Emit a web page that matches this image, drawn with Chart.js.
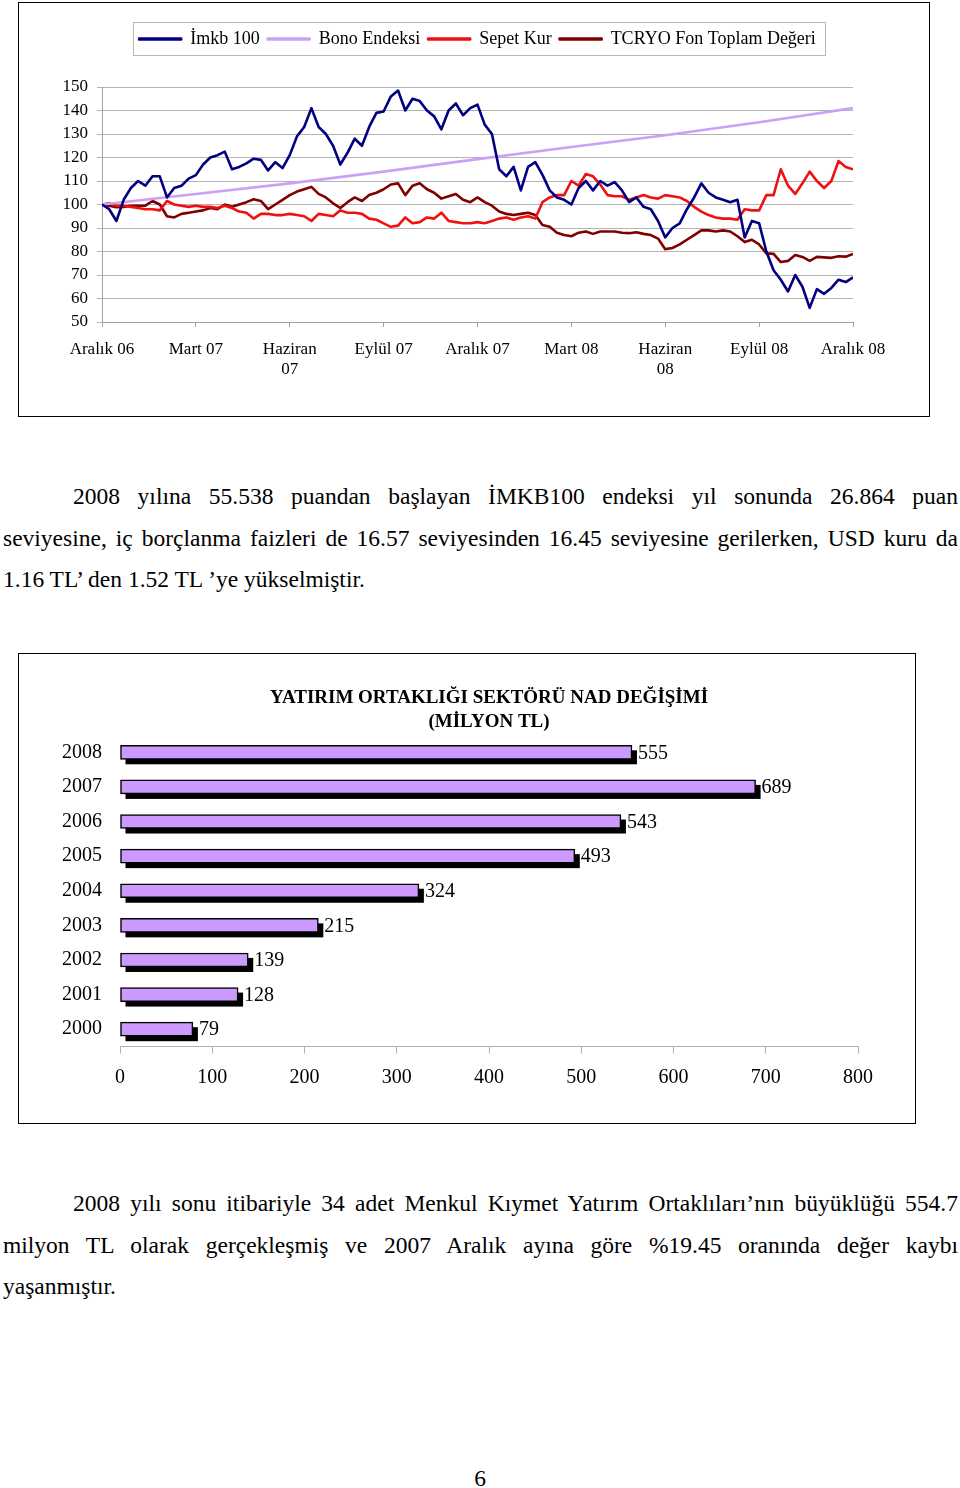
<!DOCTYPE html>
<html lang="tr">
<head>
<meta charset="utf-8">
<script src="https://cdn.jsdelivr.net/npm/chart.js@4.4.1/dist/chart.umd.min.js"></script>
<style>
  body { margin: 0; background: #fff; font-family: "Liberation Serif", "Times New Roman", serif; color: #000; }
  .page { position: relative; width: 960px; height: 1488px; }
  .box { position: absolute; border: 1px solid #000; box-sizing: border-box; background: #fff; }
  #box1 { left: 18px; top: 2px; width: 912px; height: 415px; }
  #box2 { left: 18px; top: 653px; width: 898px; height: 471px; }
  canvas { display: block; }
  .para { position: absolute; left: 3px; width: 955px; font-size: 23.5px; line-height: 41.5px; }
  .para .j { text-align: justify; text-align-last: justify; }
  .para .first { padding-left: 70px; }
  .pno { position: absolute; left: 0; width: 960px; top: 1465px; text-align: center; font-size: 23.5px; }
</style>
</head>
<body>
<div class="page">
  <div class="box" id="box1"><canvas id="lineChart" width="910" height="413"></canvas></div>

  <div class="para" style="top:476px">
    <div class="j first">2008 yılına 55.538 puandan başlayan İMKB100 endeksi yıl sonunda 26.864 puan</div>
    <div class="j">seviyesine, iç borçlanma faizleri de 16.57 seviyesinden 16.45 seviyesine gerilerken, USD kuru da</div>
    <div>1.16 TL’ den 1.52 TL ’ye yükselmiştir.</div>
  </div>

  <div class="box" id="box2"><canvas id="barChart" width="896" height="469"></canvas></div>

  <div class="para" style="top:1183px">
    <div class="j first">2008 yılı sonu itibariyle 34 adet Menkul Kıymet Yatırım Ortaklıları’nın büyüklüğü 554.7</div>
    <div class="j">milyon TL olarak gerçekleşmiş ve 2007 Aralık ayına göre %19.45 oranında değer kaybı</div>
    <div>yaşanmıştır.</div>
  </div>

  <div class="pno">6</div>
</div>

<script>
// line chart: one value per week, Aralık 06 -> Aralık 08
const quarterLabels = ['Aralık 06', 'Mart 07', ['Haziran', '07'], 'Eylül 07', 'Aralık 07',
  'Mart 08', ['Haziran', '08'], 'Eylül 08', 'Aralık 08'];

const imkb = [100, 98, 93, 102, 107, 110, 108, 112, 112, 103, 107, 108, 111, 112.5, 117, 120, 121, 122.5,
  115, 116, 117.5, 119.5, 119, 114.5, 118, 115.5, 121, 129, 133, 141, 133, 130, 125, 117, 122,
  128, 125, 133, 139, 139.6, 146, 148.5, 140, 145, 144, 140, 137.5, 132, 140, 143, 138, 141, 142.5,
  134, 130, 115, 112, 116, 106, 116, 118, 112.6, 106, 103, 102, 100, 107, 110, 106, 110,
  108, 109.5, 106, 101, 103, 99, 98, 93, 86, 90, 92, 98, 103, 109, 105, 103, 102,
  101, 102, 86, 93, 92, 80, 72, 68, 63, 70, 65, 56, 64, 62, 64.5, 68, 67, 69];

const sepetKur = [100, 100.5, 99.5, 99.5, 99, 98.5, 98, 98, 97.5, 101.5, 100, 99.5, 99, 99.5, 99, 99, 98.5, 99.5,
  98.5, 97, 96.5, 94, 96, 96, 95.5, 95.5, 96, 95.5, 95, 93, 96, 95.5, 95, 97.5, 96.5,
  96.5, 96, 94, 93.5, 92, 90.5, 91, 94.5, 92, 92.5, 94.5, 94, 96.5, 93, 92.5, 92, 92, 92.5,
  92, 93, 94, 94.5, 93.5, 94.5, 95, 94, 101, 103, 104, 104, 110, 108, 113, 112, 108.5,
  104, 103.5, 103.5, 102, 103, 104, 103, 102.5, 104, 103.5, 103, 101.5, 99, 97, 95.5, 94.5, 94,
  94, 93.5, 98, 97.5, 97.5, 104, 104, 115, 108, 104.5, 109, 114, 110, 107, 110, 118.5, 116, 115];

const tcryo = [100, 99.5, 98.8, 99, 99.5, 99.5, 99.5, 101.5, 100, 95, 94.5, 96, 96.5, 97, 97.5, 98.5, 98, 100,
  99, 100, 101, 102.2, 101.5, 98, 100, 102, 104, 105.5, 106.5, 107.5, 104.5, 103, 100.5, 98.5, 101,
  103, 101.5, 104, 105, 106.5, 108.5, 109, 104, 108, 109, 106.5, 105, 102.5, 103.5, 104.5, 102, 101, 103,
  101, 99.5, 97, 96, 95.5, 96, 96.5, 95.5, 91.3, 90.5, 88, 87, 86.5, 88, 88.5, 87.5, 88.5,
  88.5, 88.5, 88, 87.8, 88.2, 87.5, 87, 85.5, 81, 81.5, 83, 85, 87, 89, 89, 88.5, 89,
  88.5, 86.5, 84, 85, 83, 79.2, 79, 75.5, 76, 78.5, 77.7, 76, 77.7, 77.5, 77.3, 78, 77.8, 79];

// bono index is smooth, read at each quarter
const bonoWeeks = [0, 13, 26, 39, 52, 65, 78, 91, 104];
const bono = [100, 104.5, 109, 114, 119.3, 124.5, 129.5, 135, 141];

// bar chart
const years = ['2008', '2007', '2006', '2005', '2004', '2003', '2002', '2001', '2000'];
const navValues = [555, 689, 543, 493, 324, 215, 139, 128, 79];

const serif = '"Liberation Serif", "Times New Roman", serif';
const toPoints = (arr) => arr.map((v, i) => ({ x: i, y: v }));

const legendFrame = {
  id: 'legendFrame',
  afterDraw(chart) {
    const boxes = chart.legend.legendHitBoxes;
    if (!boxes || !boxes.length) return;
    const left = Math.min(...boxes.map(b => b.left)) - 6;
    const right = Math.max(...boxes.map(b => b.left + b.width)) + 9;
    const top = boxes[0].top - 8;
    const bottom = boxes[0].top + boxes[0].height + 7;
    const ctx = chart.ctx;
    ctx.save();
    ctx.strokeStyle = '#b8b8b8';
    ctx.lineWidth = 1;
    ctx.strokeRect(Math.round(left) + 0.5, Math.round(top) + 0.5, Math.round(right - left), Math.round(bottom - top));
    ctx.restore();
  }
};

const lineWidth = 2.6;
new Chart(document.getElementById('lineChart').getContext('2d'), {
  type: 'line',
  data: {
    datasets: [
      { label: 'İmkb 100', data: toPoints(imkb), borderColor: '#000080', backgroundColor: '#000080' },
      { label: 'Bono Endeksi', data: bonoWeeks.map((w, i) => ({ x: w, y: bono[i] })), borderColor: '#C9A2F4', backgroundColor: '#C9A2F4' },
      { label: 'Sepet Kur', data: toPoints(sepetKur), borderColor: '#F01010', backgroundColor: '#F01010' },
      { label: 'TCRYO Fon Toplam Değeri', data: toPoints(tcryo), borderColor: '#800000', backgroundColor: '#800000' },
    ],
  },
  options: {
    responsive: false,
    animation: false,
    events: [],
    layout: { padding: { top: 19, left: 0, right: 76, bottom: 0 } },
    elements: {
      point: { radius: 0 },
      line: { borderWidth: lineWidth, tension: 0, borderJoinStyle: 'round' },
    },
    plugins: {
      legend: {
        weight: 3000,
        fullSize: false,
        labels: {
          font: { family: serif, size: 18 },
          color: '#000',
          boxWidth: 42,
          boxHeight: 1,
          padding: 8,
        },
      },
      // empty title keeps the gap between legend and plot
      title: { display: true, text: '', font: { size: 10 }, padding: { top: 0, bottom: 17 } },
      tooltip: { enabled: false },
    },
    scales: {
      x: {
        type: 'linear',
        min: 0,
        max: 104,
        afterFit: (s) => { s.height = 94; },
        ticks: {
          stepSize: 13,
          maxRotation: 0,
          autoSkip: false,
          padding: 12,
          color: '#000',
          font: { family: serif, size: 17 },
          callback: (v) => quarterLabels[Math.round(v / 13)],
        },
        grid: { drawOnChartArea: false, drawTicks: true, tickLength: 5, color: '#a0a0a0' },
        border: { display: true, color: '#a0a0a0' },
      },
      y: {
        min: 50,
        max: 150,
        afterFit: (s) => { s.width = 83; },
        ticks: { stepSize: 10, padding: 9, color: '#000', font: { family: serif, size: 17 } },
        grid: { color: '#b4b4b4', tickLength: 5 },
        border: { display: true, color: '#a0a0a0' },
      },
    },
  },
  plugins: [legendFrame],
});

const barShadow = {
  id: 'barShadow',
  beforeDatasetsDraw(chart) {
    const ctx = chart.ctx;
    ctx.save();
    ctx.fillStyle = '#000';
    chart.getDatasetMeta(0).data.forEach((bar) => {
      const { x, y, base, height } = bar.getProps(['x', 'y', 'base', 'height'], true);
      ctx.fillRect(base + 5, y - height / 2 + 5, x - base, height);
    });
    ctx.restore();
  },
  afterDatasetsDraw(chart) {
    const ctx = chart.ctx;
    ctx.save();
    ctx.fillStyle = '#000';
    ctx.font = '20px ' + serif;
    ctx.textBaseline = 'middle';
    ctx.textAlign = 'left';
    chart.getDatasetMeta(0).data.forEach((bar, i) => {
      ctx.fillText(String(navValues[i]), bar.x + 6, bar.y + 1);
    });
    ctx.restore();
  }
};

new Chart(document.getElementById('barChart').getContext('2d'), {
  type: 'bar',
  data: {
    labels: years,
    datasets: [{
      data: navValues,
      backgroundColor: '#CC99FF',
      borderColor: '#000',
      borderWidth: 1.5,
      borderSkipped: false,
      barThickness: 14,
    }],
  },
  options: {
    indexAxis: 'y',
    responsive: false,
    animation: false,
    events: [],
    layout: { padding: { top: 32, left: 0, right: 57, bottom: 0 } },
    plugins: {
      legend: { display: false },
      tooltip: { enabled: false },
      title: {
        display: true,
        fullSize: false,
        text: ['YATIRIM ORTAKLIĞI SEKTÖRÜ NAD DEĞİŞİMİ', '(MİLYON TL)'],
        color: '#000',
        font: { family: serif, size: 19, weight: 'bold', lineHeight: 1.263 },
        padding: { top: 0, bottom: 1 },
      },
    },
    scales: {
      x: {
        min: 0,
        max: 800,
        afterFit: (s) => { s.height = 76.5; },
        ticks: { stepSize: 100, padding: 12, color: '#000', font: { family: serif, size: 20 } },
        grid: { drawOnChartArea: false, drawTicks: true, tickLength: 7, color: '#b0b0b0' },
        border: { display: true, color: '#b0b0b0' },
      },
      y: {
        afterFit: (s) => { s.width = 101; },
        ticks: { padding: 18, color: '#000', font: { family: serif, size: 20 } },
        grid: { display: false, drawTicks: false },
        border: { display: false },
      },
    },
  },
  plugins: [barShadow],
});
</script>
</body>
</html>
